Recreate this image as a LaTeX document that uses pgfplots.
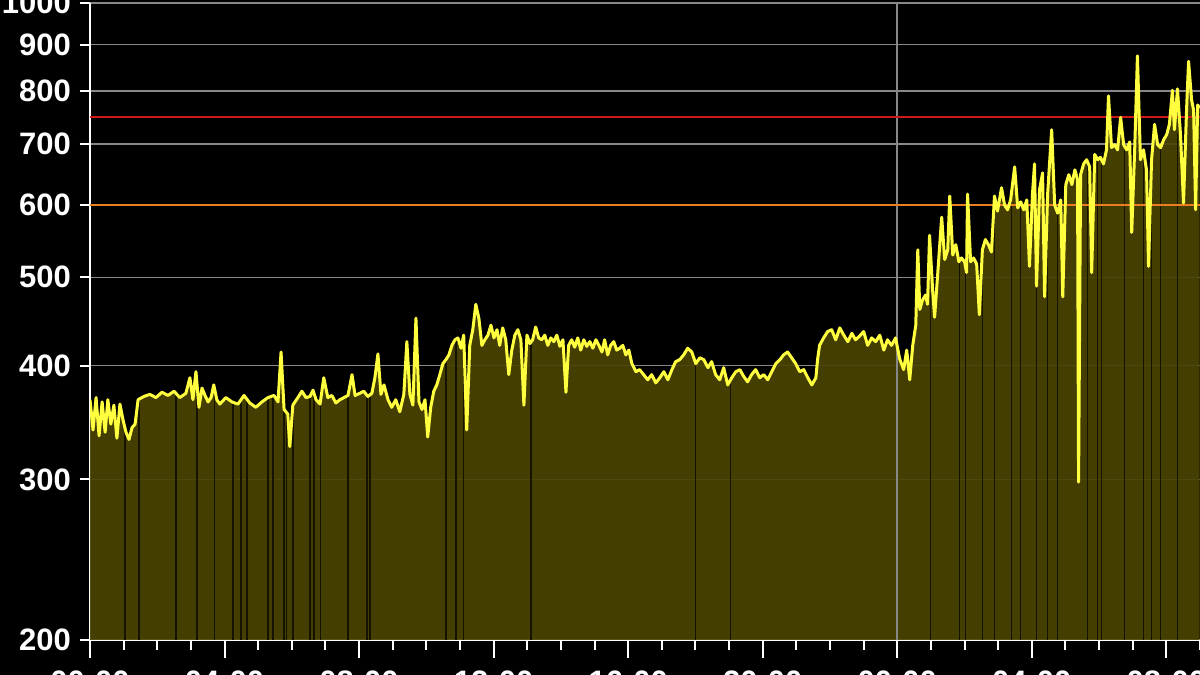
\documentclass[border=0pt]{standalone}
\usepackage{pgfplots}
\pgfplotsset{compat=1.18}
\usepackage{pgfplotstable}
\usepackage{fontspec}
\setmainfont{Liberation Sans}

\definecolor{bgfill}{RGB}{74,68,4}
\definecolor{trace}{RGB}{255,255,64}
\definecolor{gapc}{RGB}{22,20,0}
\definecolor{gridc}{RGB}{135,135,135}
\definecolor{limred}{RGB}{205,25,25}
\definecolor{limorange}{RGB}{235,125,35}

% hours since 00:00, value
\pgfplotstableread{
h v
0.00 367
0.09 340
0.18 369
0.27 335
0.36 365
0.45 338
0.53 367
0.62 345
0.71 362
0.80 333
0.89 363
0.98 349
1.07 338
1.16 332
1.25 342
1.34 345
1.43 367
1.60 370
1.78 372
1.96 369
2.14 374
2.32 371
2.50 375
2.67 369
2.85 373
2.97 388
3.06 367
3.15 394
3.24 360
3.33 378
3.42 371
3.51 365
3.60 369
3.68 381
3.77 367
3.86 363
4.04 369
4.22 365
4.40 363
4.58 371
4.75 364
4.93 360
5.11 365
5.29 369
5.47 371
5.59 365
5.68 414
5.77 358
5.88 354
5.94 326
6.03 362
6.18 369
6.30 375
6.42 369
6.54 370
6.63 376
6.72 367
6.84 363
6.95 388
7.07 369
7.19 371
7.31 364
7.43 367
7.55 369
7.67 371
7.79 391
7.88 371
8.02 373
8.14 375
8.26 370
8.38 373
8.47 388
8.56 412
8.65 372
8.74 381
8.86 367
8.97 360
9.09 367
9.21 356
9.33 372
9.42 425
9.51 372
9.60 362
9.69 451
9.78 365
9.87 358
9.96 367
10.04 334
10.13 360
10.22 375
10.31 381
10.40 391
10.49 402
10.58 406
10.67 411
10.76 421
10.85 427
10.94 429
11.03 418
11.11 432
11.20 340
11.29 421
11.38 438
11.47 467
11.56 451
11.65 421
11.74 427
11.83 432
11.92 443
12.01 429
12.10 438
12.18 421
12.27 440
12.36 427
12.45 391
12.54 416
12.63 432
12.72 438
12.81 427
12.90 362
12.99 432
13.08 423
13.16 427
13.25 441
13.34 429
13.43 427
13.52 432
13.61 421
13.70 429
13.79 425
13.88 432
13.97 420
14.06 427
14.15 374
14.23 421
14.32 427
14.41 419
14.50 429
14.59 416
14.68 427
14.77 420
14.86 425
14.95 418
15.04 427
15.13 421
15.22 414
15.30 427
15.39 411
15.48 421
15.57 425
15.66 416
15.75 418
15.84 421
15.93 411
16.02 416
16.11 402
16.23 394
16.34 396
16.46 391
16.58 386
16.70 391
16.82 383
16.94 388
17.06 394
17.18 386
17.30 396
17.41 404
17.53 406
17.65 411
17.77 418
17.89 414
18.01 402
18.13 408
18.25 406
18.37 398
18.48 404
18.60 391
18.72 386
18.84 398
18.96 381
19.08 388
19.20 394
19.32 396
19.44 389
19.55 384
19.67 391
19.79 396
19.91 388
20.03 391
20.15 386
20.27 394
20.39 402
20.51 406
20.62 411
20.74 414
20.86 408
20.98 402
21.10 394
21.22 396
21.34 388
21.46 381
21.58 388
21.63 406
21.69 421
21.81 429
21.93 436
22.05 438
22.17 427
22.29 440
22.41 432
22.53 425
22.65 434
22.76 427
22.88 431
23.00 436
23.12 421
23.24 429
23.36 425
23.48 432
23.60 416
23.71 427
23.83 421
23.95 429
24.07 407
24.19 396
24.28 416
24.37 386
24.46 421
24.55 443
24.61 536
24.67 461
24.75 472
24.84 478
24.90 467
24.96 556
25.05 485
25.11 452
25.20 503
25.32 582
25.41 523
25.50 536
25.56 614
25.65 529
25.74 543
25.83 520
25.91 525
26.00 520
26.06 506
26.09 617
26.18 520
26.27 525
26.36 517
26.44 455
26.53 536
26.62 550
26.71 543
26.80 533
26.89 614
26.98 591
27.10 627
27.19 600
27.28 593
27.37 608
27.49 661
27.58 596
27.67 605
27.76 593
27.85 608
27.93 514
28.02 617
28.08 666
28.14 489
28.23 624
28.32 651
28.38 476
28.47 617
28.59 726
28.68 600
28.77 588
28.86 608
28.92 476
29.01 632
29.10 648
29.19 632
29.28 656
29.36 640
29.39 298
29.45 648
29.54 666
29.63 673
29.72 661
29.78 506
29.87 682
29.96 673
30.04 677
30.13 666
30.22 690
30.28 791
30.37 694
30.46 699
30.55 690
30.64 749
30.73 699
30.82 690
30.91 704
30.97 560
31.06 694
31.14 875
31.23 673
31.32 690
31.41 656
31.47 514
31.56 673
31.65 736
31.74 699
31.83 694
31.92 708
32.01 717
32.09 736
32.18 802
32.24 726
32.33 805
32.42 717
32.51 603
32.60 763
32.66 863
32.75 783
32.81 763
32.87 593
32.93 773
32.99 767
}\loadtable

% short dropouts in the filled area
\pgfplotstableread{
h v
1.04 340
1.46 367
2.56 372
3.18 370
3.71 370
4.25 365
4.49 365
4.67 368
5.29 369
5.44 370
5.77 358
5.85 355
6.03 362
6.54 370
6.66 370
6.86 363
7.67 371
8.23 370
8.32 372
10.58 406
10.88 427
11.11 430
13.11 425
18.01 402
19.05 388
24.99 480
25.85 520
26.03 520
26.54 536
26.89 590
27.40 605
27.67 600
28.14 490
28.47 615
28.77 590
29.66 665
29.96 670
30.07 675
30.76 695
31.32 690
31.56 670
31.83 694
32.33 720
}\gaptable

\begin{document}
\begin{tikzpicture}
\fill[black] (-45pt,-17.5pt) rectangle (555pt,320pt);
\begin{axis}[
  scale only axis,
  width=555pt, height=318.5pt,
  ymode=log,
  xmin=0, xmax=33,
  ymin=200, ymax=1000,
  axis x line*=bottom,
  axis y line*=left,
  axis line style={white, line width=1pt},
  tick style={white, line width=1pt},
  tick align=outside,
  major tick length=5pt,
  minor tick length=5pt,
  xtick={0,1,...,33},
  xticklabels={},
  extra x ticks={0,4,...,32},
  extra x tick labels={00:00,04:00,08:00,12:00,16:00,20:00,00:00,04:00,08:00},
  extra x tick style={major tick length=9pt, grid=none},
  ytick={200,300,400,500,600,700,800,900,1000},
  yticklabels={200,300,400,500,600,700,800,900,1000},
  minor ytick={},
  ymajorgrids,
  grid style={gridc, line width=0.8pt},
  ticklabel style={font=\fontsize{15.5}{18}\selectfont\bfseries, text=white},
  yticklabel style={xshift=-1pt},
  xticklabel style={yshift=-3pt},
  clip=true,
]
  \addplot[draw=none, fill=bgfill, fill opacity=0.92] table[x=h, y=v] {\loadtable} \closedcycle;
  \addplot[ycomb, gapc, line width=0.7pt] table[x=h, y=v] {\gaptable};
  \addplot[gridc, line width=0.8pt] coordinates {(24,200) (24,1000)};
  \addplot[limorange, line width=1pt] coordinates {(0,600) (33,600)};
  \addplot[limred, line width=1pt] coordinates {(0,750) (33,750)};
  \addplot[trace, line width=1.5pt, line join=round] table[x=h, y=v] {\loadtable};
\end{axis}
\pgfresetboundingbox
\useasboundingbox (-45pt,-17.5pt) rectangle (555pt,320pt);
\end{tikzpicture}
\end{document}
